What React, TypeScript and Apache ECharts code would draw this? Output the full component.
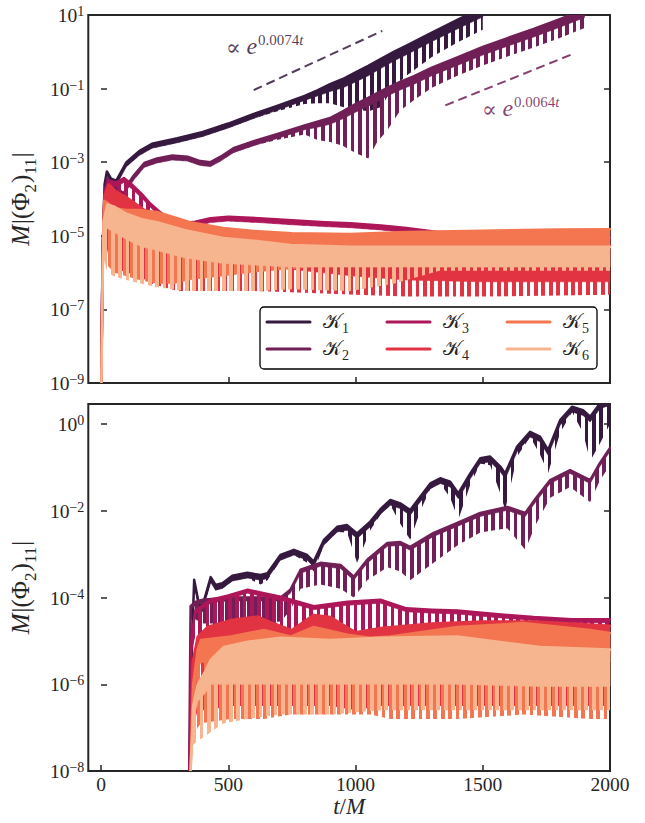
import React, { useEffect, useRef } from 'react';
import * as echarts from 'echarts';

// ---------- data (log10 values) ----------
// each row: [t/M, log10 upper envelope, log10 bottom of solid part, log10 lower (trough) envelope]
const COLORS = ['#35193e', '#701f57', '#ad1759', '#e13342', '#f37651', '#f6b48f'];
const NAMES = ['K1', 'K2', 'K3', 'K4', 'K5', 'K6'];

const xTicks = [0, 500, 1000, 1500, 2000];
const yTopTicks = [1e-9, 1e-7, 1e-5, 1e-3, 1e-1, 1e1];
const yBottomTicks = [1e-8, 1e-6, 1e-4, 1e-2, 1];

const k1Top = [
  [0, -10, -10, -10], [6, -5.5, -5.62, -5.62], [14, -3.6, -3.72, -3.72], [23, -3.25, -3.37, -3.37],
  [40, -3.45, -3.57, -3.57], [60, -3.5, -3.62, -3.62], [80, -3.25, -3.37, -3.37], [100, -3.0, -3.12, -3.12],
  [150, -2.7, -2.82, -2.82], [200, -2.5, -2.62, -2.62], [300, -2.35, -2.47, -2.47], [400, -2.18, -2.3, -2.3],
  [500, -1.95, -2.07, -2.07], [600, -1.69, -1.81, -1.81], [700, -1.45, -1.57, -1.6], [800, -1.2, -1.32, -1.42],
  [850, -1.05, -1.2, -1.4], [900, -0.88, -1.08, -1.4], [950, -0.74, -0.98, -1.5], [1000, -0.56, -0.82, -1.55],
  [1050, -0.38, -0.65, -1.62], [1100, -0.19, -0.45, -1.5], [1150, 0.0, -0.25, -0.95], [1200, 0.17, -0.08, -0.65],
  [1300, 0.52, 0.28, -0.14], [1400, 0.87, 0.62, 0.25], [1500, 1.2, 0.95, 0.6],
];
const k2Top = [
  [0, -10, -10, -10], [6, -5.5, -5.62, -5.62], [14, -3.8, -3.92, -3.92], [25, -3.45, -3.57, -3.57],
  [45, -3.55, -3.67, -3.67], [70, -3.75, -3.87, -3.87], [90, -3.85, -3.97, -3.97], [105, -3.6, -3.72, -3.72],
  [130, -3.35, -3.47, -3.47], [170, -3.02, -3.14, -3.14], [220, -2.9, -3.02, -3.02], [280, -2.82, -2.94, -2.94],
  [340, -2.85, -2.97, -2.97], [390, -2.97, -3.09, -3.09], [430, -3.0, -3.12, -3.12], [470, -2.85, -2.97, -2.97],
  [520, -2.62, -2.74, -2.74], [600, -2.43, -2.55, -2.55], [700, -2.22, -2.34, -2.38], [800, -2.0, -2.12, -2.25],
  [850, -1.9, -2.05, -2.4], [900, -1.8, -1.97, -2.45], [950, -1.62, -1.82, -2.55], [1000, -1.42, -1.64, -2.75],
  [1050, -1.25, -1.48, -2.9], [1085, -1.12, -1.35, -2.45], [1125, -0.98, -1.2, -2.13], [1175, -0.82, -1.04, -1.6],
  [1230, -0.66, -0.88, -1.31], [1300, -0.43, -0.65, -0.98], [1400, -0.15, -0.37, -0.65], [1500, 0.13, -0.09, -0.37],
  [1600, 0.38, 0.16, -0.12], [1700, 0.62, 0.4, 0.12], [1800, 0.88, 0.66, 0.37], [1900, 1.15, 0.93, 0.65],
];
const k3Top = [
  [0, -10, -10, -10], [6, -5.5, -5.6, -5.7], [14, -3.8, -3.92, -4.3], [30, -3.5, -3.62, -4.0],
  [60, -3.55, -3.67, -4.05], [90, -3.43, -3.55, -3.95], [120, -3.6, -3.72, -4.1], [157, -3.84, -3.95, -4.3],
  [190, -4.1, -4.2, -4.45], [222, -4.3, -4.42, -4.5], [260, -4.5, -4.62, -4.62], [290, -4.6, -4.72, -4.72],
  [330, -4.65, -4.77, -4.77], [370, -4.62, -4.74, -4.74], [430, -4.52, -4.64, -4.64], [500, -4.48, -4.6, -4.6],
  [620, -4.52, -4.64, -4.64], [750, -4.58, -4.7, -4.7], [880, -4.63, -4.75, -4.75], [980, -4.66, -4.78, -4.78],
  [1100, -4.72, -4.84, -4.84], [1200, -4.79, -4.91, -4.91], [1330, -4.9, -5.02, -5.02], [1500, -4.97, -5.09, -5.09],
  [1700, -5.0, -5.12, -5.12], [2000, -5.05, -5.17, -5.17],
];
const k4Top = [
  [0, -10, -10, -10], [6, -5.5, -5.6, -5.7], [14, -3.9, -4.3, -5.0], [30, -3.6, -4.1, -5.6],
  [60, -3.8, -4.4, -5.9], [100, -3.95, -4.6, -6.0], [150, -4.2, -4.9, -6.1], [200, -4.45, -5.1, -6.3],
  [300, -4.75, -5.4, -6.5], [400, -4.9, -5.6, -6.5], [600, -5.05, -5.8, -6.5], [800, -5.15, -5.95, -6.55],
  [1000, -5.2, -6.1, -6.6], [1200, -5.22, -6.2, -6.65], [1500, -5.25, -6.25, -6.65], [1800, -5.25, -6.25, -6.62],
  [2000, -5.25, -6.25, -6.6],
];
const k5Top = [
  [0, -10, -10, -10], [6, -5.8, -5.9, -6.0], [12, -4.05, -4.5, -5.3], [25, -4.1, -4.6, -5.8],
  [50, -4.25, -4.8, -6.0], [100, -4.3, -4.9, -6.1], [150, -4.3, -4.95, -6.2], [220, -4.35, -5.0, -6.3],
  [290, -4.5, -5.1, -6.3], [350, -4.63, -5.2, -6.2], [480, -4.79, -5.3, -6.1], [600, -4.87, -5.35, -6.0],
  [750, -4.93, -5.4, -5.9], [980, -4.95, -5.4, -5.75], [1200, -4.9, -5.4, -5.65], [1500, -4.86, -5.38, -5.6],
  [1800, -4.83, -5.37, -5.6], [2000, -4.82, -5.37, -5.6],
];
const k6Top = [
  [0, -10, -10, -10], [5, -7, -7.1, -7.2], [10, -4.6, -5.0, -5.6], [25, -4.15, -4.8, -6.0],
  [50, -4.2, -4.9, -6.1], [100, -4.4, -5.1, -6.2], [160, -4.55, -5.3, -6.3], [220, -4.63, -5.4, -6.4],
  [330, -4.85, -5.6, -6.5], [480, -5.06, -5.75, -6.5], [620, -5.15, -5.8, -6.5], [745, -5.25, -5.85, -6.45],
  [980, -5.3, -5.85, -6.5], [1150, -5.3, -5.85, -6.3], [1330, -5.3, -5.85, -5.95], [1600, -5.3, -5.85, -5.95],
  [2000, -5.3, -5.85, -5.95],
];

const k1Bottom = [
  [345, -9, -9, -9], [358, -5, -5.12, -5.12], [366, -3.59, -3.71, -3.71], [384, -4.13, -4.25, -4.25],
  [398, -4.21, -4.33, -4.33], [431, -3.53, -3.65, -3.65], [450, -3.71, -3.83, -3.83], [477, -3.67, -3.79, -3.79],
  [516, -3.5, -3.62, -3.62], [575, -3.43, -3.55, -3.55], [627, -3.48, -3.6, -3.7], [654, -3.44, -3.56, -3.6],
  [705, -3.02, -3.14, -3.14], [758, -2.9, -3.02, -3.02], [810, -3.02, -3.14, -3.2], [836, -3.17, -3.29, -3.4],
  [876, -2.67, -2.79, -2.79], [928, -2.37, -2.49, -2.49], [967, -2.33, -2.45, -2.5], [1006, -2.52, -2.64, -3.2],
  [1058, -2.25, -2.37, -2.45], [1100, -1.95, -2.07, -2.07], [1137, -1.75, -1.87, -1.87], [1176, -1.83, -1.95, -2.3],
  [1215, -1.98, -2.1, -2.67], [1255, -1.67, -1.79, -2.0], [1294, -1.37, -1.49, -1.49], [1333, -1.25, -1.37, -1.37],
  [1372, -1.33, -1.45, -1.7], [1404, -1.6, -1.72, -2.2], [1451, -1.14, -1.26, -1.4], [1490, -0.79, -0.91, -0.91],
  [1529, -0.75, -0.87, -0.95], [1569, -0.98, -1.1, -1.6], [1588, -1.14, -1.26, -1.98], [1635, -0.52, -0.64, -0.75],
  [1686, -0.18, -0.3, -0.3], [1725, -0.29, -0.41, -0.7], [1757, -0.6, -0.72, -1.13], [1804, 0.09, -0.03, -0.2],
  [1851, 0.4, 0.28, 0.28], [1894, 0.32, 0.2, -0.2], [1922, 0.17, 0.05, -0.85], [1961, 0.48, 0.36, -0.44],
  [2000, 0.55, 0.43, 0.0],
];
const k2Bottom = [
  [345, -9, -9, -9], [352, -4.2, -4.28, -4.5], [370, -4.1, -4.18, -4.5], [400, -4.05, -4.13, -4.6],
  [500, -4.0, -4.08, -4.6], [600, -4.0, -4.08, -4.6], [706, -4.0, -4.08, -4.55], [744, -3.82, -3.9, -4.3],
  [784, -3.36, -3.44, -3.8], [862, -3.2, -3.28, -3.7], [941, -3.25, -3.33, -3.8], [993, -3.52, -3.6, -4.0],
  [1046, -3.13, -3.21, -3.6], [1125, -2.74, -2.82, -3.3], [1176, -2.72, -2.8, -3.4], [1215, -2.83, -2.91, -3.6],
  [1307, -2.51, -2.59, -3.2], [1400, -2.28, -2.36, -2.8], [1490, -2.05, -2.13, -2.5], [1596, -1.91, -1.99, -2.4],
  [1667, -2.05, -2.13, -2.9], [1710, -1.7, -1.78, -2.3], [1765, -1.29, -1.37, -1.7], [1843, -1.06, -1.14, -1.45],
  [1922, -1.29, -1.37, -1.8], [1960, -0.9, -0.98, -1.3], [2000, -0.55, -0.63, -0.95],
];
const k3Bottom = [
  [345, -9, -9, -9], [355, -5, -5.08, -5.3], [370, -4.3, -4.38, -4.9], [431, -4.05, -4.13, -4.8],
  [500, -3.95, -4.03, -4.8], [576, -3.82, -3.9, -4.75], [640, -3.9, -3.98, -4.8], [706, -3.98, -4.06, -4.85],
  [836, -4.2, -4.28, -4.9], [968, -4.1, -4.18, -4.85], [1098, -4.05, -4.13, -4.8], [1200, -4.25, -4.33, -4.85],
  [1300, -4.28, -4.36, -4.85], [1400, -4.3, -4.38, -4.85], [1550, -4.38, -4.46, -4.85], [1700, -4.45, -4.53, -4.85],
  [1850, -4.5, -4.58, -4.9], [2000, -4.5, -4.58, -4.9],
];
const k4Bottom = [
  [345, -9, -9, -9], [352, -7.7, -7.8, -8.0], [360, -5.5, -6.0, -7.0], [380, -4.9, -5.4, -6.6],
  [418, -4.68, -5.2, -6.6], [510, -4.52, -5.1, -6.5], [616, -4.44, -5.1, -6.5], [680, -4.6, -5.2, -6.5],
  [750, -4.75, -5.3, -6.5], [836, -4.4, -5.1, -6.5], [902, -4.45, -5.1, -6.5], [1000, -4.8, -5.3, -6.6],
  [1100, -4.7, -5.3, -6.5], [1300, -4.6, -5.3, -6.5], [1500, -4.55, -5.3, -6.5], [1700, -4.55, -5.3, -6.5],
  [1850, -4.6, -5.3, -6.5], [2000, -4.65, -5.35, -6.5],
];
const k5Bottom = [
  [345, -9, -9, -9], [352, -8, -8.1, -8.2], [362, -6.0, -6.5, -7.2], [380, -5.2, -5.7, -7.0],
  [392, -4.98, -5.5, -6.9], [510, -4.9, -5.5, -6.8], [640, -4.75, -5.5, -6.8], [745, -4.9, -5.5, -6.7],
  [836, -4.68, -5.4, -6.7], [968, -4.86, -5.5, -6.7], [1059, -4.93, -5.5, -6.7], [1137, -4.9, -5.5, -6.8],
  [1400, -4.68, -5.4, -6.8], [1660, -4.59, -5.4, -6.7], [1922, -4.75, -5.5, -6.8], [2000, -4.82, -5.5, -6.8],
];
const k6Bottom = [
  [345, -9, -9, -9], [352, -8, -8.1, -8.2], [362, -6.5, -6.9, -7.4], [380, -6.0, -6.4, -7.3],
  [410, -5.7, -6.2, -7.2], [431, -5.44, -6.0, -7.1], [483, -5.14, -6.0, -6.9], [576, -5.02, -6.0, -6.8],
  [706, -4.93, -6.0, -6.7], [902, -4.98, -6.0, -6.7], [1098, -4.93, -6.0, -6.6], [1400, -4.9, -6.0, -6.6],
  [1725, -5.14, -6.05, -6.6], [2000, -5.2, -6.05, -6.6],
];

// exponential-growth guide lines: [t/M, value]
const fitK1 = [[600, 0.091], [1105, 3.7]];
const fitK2 = [[1353, 0.035], [1850, 0.85]];

const TOP = [k1Top, k2Top, k3Top, k4Top, k5Top, k6Top];
const BOTTOM = [k1Bottom, k2Bottom, k3Bottom, k4Bottom, k5Bottom, k6Bottom];

// ---------- styling helpers ----------
const FONT = '"Liberation Serif", "DejaVu Serif", serif';
const INK = '#262626';

function clearOf(hex: string) {
  const n = parseInt(hex.slice(1), 16);
  return `rgba(${(n >> 16) & 255},${(n >> 8) & 255},${n & 255},0)`;
}

function stripeStops(x0: number, x1: number, color: string, phase: number) {
  const P = 7.4, W = 3.8;
  const L = Math.max(1, x1 - x0);
  const clear = clearOf(color);
  const stops: any[] = [];
  let s = x0 - ((((x0 - phase) % P) + P) % P);
  for (; s < x1; s += P) {
    const a = Math.min(1, Math.max(0, (s - x0) / L));
    const b = Math.min(1, Math.max(0, (s + W - x0) / L));
    const c = Math.min(1, Math.max(0, (s + P - x0) / L));
    stops.push({ offset: a, color }, { offset: b, color }, { offset: b, color: clear }, { offset: c, color: clear });
  }
  return stops;
}

function band(name: string, color: string, rows: number[][], xi: number, yi: number, idx: number) {
  return {
    type: 'custom',
    name,
    xAxisIndex: xi,
    yAxisIndex: yi,
    clip: true,
    silent: true,
    encode: { x: 0, y: 1 },
    data: rows.map((r) => [r[0], Math.pow(10, r[1])]),
    renderItem: (params: any, api: any) => {
      if (params.dataIndex !== 0) return null;
      const P = (t: number, e: number) => api.coord([t, Math.pow(10, e)]);
      const hi = rows.map((r) => P(r[0], r[1]));
      const mid = rows.map((r) => P(r[0], r[2]));
      const lo = rows.map((r) => P(r[0], r[3]));
      const x0 = hi[0][0];
      const x1 = hi[hi.length - 1][0];
      const grad = new echarts.graphic.LinearGradient(x0, 0, x1, 0, stripeStops(x0, x1, color, idx * 2.9), true);
      return {
        type: 'group',
        children: [
          { type: 'polygon', shape: { points: hi.concat(lo.slice().reverse()) }, style: { fill: grad } },
          { type: 'polygon', shape: { points: hi.concat(mid.slice().reverse()) }, style: { fill: color, stroke: color, lineWidth: 0.6 } },
          {
            type: 'polyline',
            shape: { points: hi },
            style: { stroke: color, lineWidth: 2.5, fill: null, lineJoin: 'round', lineCap: 'round' },
          },
        ],
      };
    },
  };
}

const powFormatter = (v: number) => {
  const e = Math.round(Math.log10(v));
  return `{b|10}{s|${e < 0 ? '\u2212' : ''}${Math.abs(e)}}`;
};
const powRich = {
  b: { fontSize: 19.5, fontFamily: FONT, color: INK, verticalAlign: 'bottom' },
  s: { fontSize: 14, fontFamily: FONT, color: INK, verticalAlign: 'bottom', padding: [0, 0, 7, 0] },
};
const yNameRich = {
  i: { fontSize: 25, fontFamily: FONT, fontStyle: 'italic', color: INK, verticalAlign: 'bottom', padding: [0, 1, 6, 0] },
  n: { fontSize: 25, fontFamily: FONT, color: INK, verticalAlign: 'bottom', padding: [0, 0, 6, 0] },
  u: { fontSize: 17, fontFamily: FONT, color: INK, verticalAlign: 'bottom', padding: [0, 1, 0, 0] },
};
const Y_NAME = '{i|M}{n||(Φ}{u|2}{n|)}{u|11}{n||}';

function yAxisCfg(gridIndex: number, min: number, max: number, ticks: number[], right: boolean) {
  return {
    type: 'log',
    logBase: 10,
    gridIndex,
    min,
    max,
    position: right ? 'right' : 'left',
    name: right ? '' : Y_NAME,
    nameLocation: 'middle',
    nameRotate: 90,
    nameGap: 34,
    nameTextStyle: { rich: yNameRich, fontFamily: FONT },
    axisLine: { show: false },
    splitLine: { show: false },
    minorTick: { show: false },
    axisTick: { show: true, inside: true, length: 6, customValues: ticks, lineStyle: { color: INK, width: 1.5 } },
    axisLabel: right
      ? { show: false }
      : { show: true, margin: 4, customValues: ticks, formatter: powFormatter, rich: powRich, fontFamily: FONT },
  };
}

function xAxisCfg(gridIndex: number, showLabels: boolean) {
  return {
    type: 'value',
    gridIndex,
    min: -50,
    max: 2000,
    position: 'bottom',
    name: showLabels ? '{i|t}{n|/}{i|M}' : '',
    nameLocation: 'middle',
    nameGap: 24,
    nameTextStyle: {
      rich: {
        i: { fontSize: 23, fontFamily: FONT, fontStyle: 'italic', color: INK },
        n: { fontSize: 23, fontFamily: FONT, color: INK },
      },
    },
    axisLine: { show: false },
    splitLine: { show: false },
    axisTick: { show: true, inside: true, length: 6, customValues: xTicks, lineStyle: { color: INK, width: 1.5 } },
    axisLabel: showLabels
      ? {
          show: true,
          margin: 3,
          customValues: xTicks,
          formatter: (v: number) => String(v),
          fontSize: 19.5,
          fontFamily: FONT,
          color: INK,
        }
      : { show: false },
  };
}

function legendGraphic() {
  const children: any[] = [
    {
      type: 'rect',
      z: 100,
      shape: { x: 0, y: 0, width: 337, height: 62, r: 4 },
      style: { fill: '#ffffff', stroke: '#000000', lineWidth: 1.3 },
    },
  ];
  NAMES.forEach((n, i) => {
    const col = Math.floor(i / 2);
    const row = i % 2;
    const lx = 7 + col * 120;
    const ly = 15 + row * 27;
    children.push({
      type: 'line',
      z: 101,
      shape: { x1: lx, y1: ly, x2: lx + 43, y2: ly },
      style: { stroke: COLORS[i], lineWidth: 3, lineCap: 'round' },
    });
    children.push({
      type: 'text',
      z: 101,
      x: lx + 56,
      y: ly + 1,
      style: {
        text: `{k|\u{1D4A6}}{s|${n.slice(1)}}`,
        verticalAlign: 'middle',
        align: 'left',
        rich: {
          k: { fontSize: 20, fontFamily: FONT, fill: INK, verticalAlign: 'bottom', padding: [0, 0, 4, 0] },
          s: { fontSize: 14, fontFamily: FONT, fill: INK, verticalAlign: 'bottom' },
        },
      },
    });
  });
  return { type: 'group', x: 260, y: 307, z: 100, children };
}

function annotation(x: number, y: number, rate: string, color: string) {
  return {
    type: 'text',
    z: 100,
    x,
    y,
    style: {
      text: `{a|\u221D }{b|e}{c|${rate}}{d|t}`,
      align: 'left',
      verticalAlign: 'bottom',
      opacity: 0.85,
      rich: {
        a: { fontSize: 22, fontFamily: FONT, fill: color, verticalAlign: 'bottom' },
        b: { fontSize: 24, fontFamily: FONT, fontStyle: 'italic', fill: color, verticalAlign: 'bottom' },
        c: { fontSize: 15, fontFamily: FONT, fill: color, verticalAlign: 'bottom', padding: [0, 0, 11, 1] },
        d: { fontSize: 15, fontFamily: FONT, fontStyle: 'italic', fill: color, verticalAlign: 'bottom', padding: [0, 0, 11, 0] },
      },
    },
  };
}

function buildOption() {
  const series: any[] = [];
  TOP.forEach((rows, i) => series.push(band(NAMES[i], COLORS[i], rows, 0, 0, i)));
  BOTTOM.forEach((rows, i) => series.push(band(NAMES[i], COLORS[i], rows, 1, 2, i)));
  series.push({
    type: 'line',
    name: 'fit K1',
    xAxisIndex: 0,
    yAxisIndex: 0,
    data: fitK1,
    symbol: 'none',
    silent: true,
    z: 5,
    lineStyle: { color: COLORS[0], width: 2, type: [9, 5], opacity: 0.85 },
  });
  series.push({
    type: 'line',
    name: 'fit K2',
    xAxisIndex: 0,
    yAxisIndex: 0,
    data: fitK2,
    symbol: 'none',
    silent: true,
    z: 5,
    lineStyle: { color: COLORS[1], width: 2, type: [9, 5], opacity: 0.85 },
  });

  return {
    animation: false,
    backgroundColor: '#ffffff',
    textStyle: { fontFamily: FONT },
    grid: [
      { left: 87.5, top: 15, width: 522.5, height: 368, show: true, borderColor: INK, borderWidth: 2, backgroundColor: 'transparent' },
      { left: 87.5, top: 404, width: 522.5, height: 367, show: true, borderColor: INK, borderWidth: 2, backgroundColor: 'transparent' },
    ],
    xAxis: [xAxisCfg(0, false), xAxisCfg(1, true)],
    yAxis: [
      yAxisCfg(0, 1e-9, 10, yTopTicks, false),
      yAxisCfg(0, 1e-9, 10, yTopTicks, true),
      yAxisCfg(1, 1e-8, 2.9, yBottomTicks, false),
      yAxisCfg(1, 1e-8, 2.9, yBottomTicks, true),
    ],
    series,
    graphic: [
      annotation(226, 58, '0.0074', COLORS[0]),
      annotation(482, 120, '0.0064', COLORS[1]),
      legendGraphic(),
    ],
  };
}

export default function App() {
  const ref = useRef<HTMLDivElement>(null);
  useEffect(() => {
    if (!ref.current) return;
    const chart = echarts.init(ref.current, null, { renderer: 'svg' });
    chart.setOption(buildOption() as any);
    return () => chart.dispose();
  }, []);
  return (
    <div
      ref={ref}
      style={{ position: 'fixed', left: 0, top: 0, width: 645, height: 823, background: '#ffffff' }}
    />
  );
}
